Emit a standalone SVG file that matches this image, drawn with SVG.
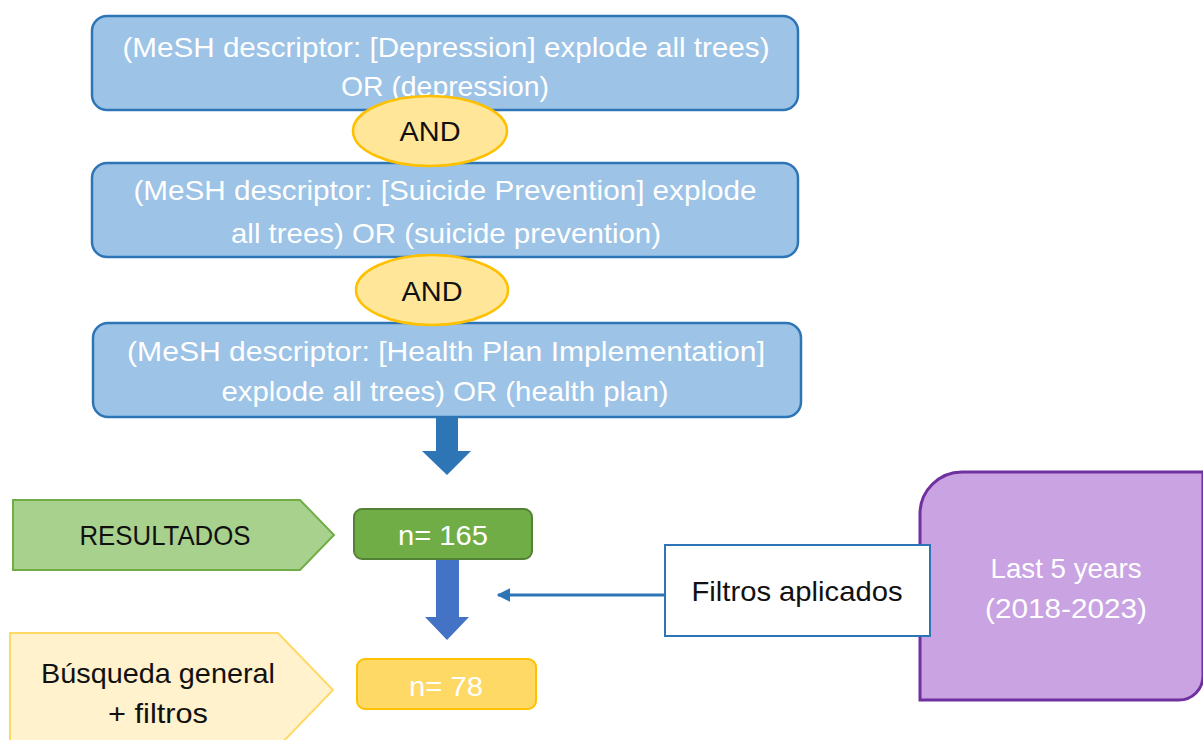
<svg xmlns="http://www.w3.org/2000/svg" width="1203" height="740" viewBox="0 0 1203 740">
<defs>
<style>
text{font-family:"Liberation Sans",Arial,sans-serif;font-size:28px;text-anchor:middle}
.w{fill:#fff}
.k{fill:#111}
.query{fill:#9DC3E6;stroke:#2E75B6;stroke-width:2.5}
.and{fill:#FFE699;stroke:#FFC000;stroke-width:2.5}
</style>
<marker id="ah" viewBox="0 0 10 10" refX="9" refY="5" markerWidth="4.5" markerHeight="4.5" orient="auto-start-reverse" markerUnits="strokeWidth">
<path d="M0,0 L10,5 L0,10 Z" fill="#2E75B6"/>
</marker>
</defs>
<rect width="1203" height="740" fill="#fff"/>

<g id="q1">
<rect class="query" x="92" y="16" width="706" height="94" rx="15"/>
<text class="w" x="446" y="57" textLength="647" lengthAdjust="spacingAndGlyphs">(MeSH descriptor: [Depression] explode all trees)</text>
<text class="w" x="445" y="96" textLength="208" lengthAdjust="spacingAndGlyphs">OR (depression)</text>
</g>
<g id="q2">
<rect class="query" x="92" y="163" width="706" height="94" rx="15"/>
<text class="w" x="445" y="200" textLength="623" lengthAdjust="spacingAndGlyphs">(MeSH descriptor: [Suicide Prevention] explode</text>
<text class="w" x="446" y="243" textLength="430" lengthAdjust="spacingAndGlyphs">all trees) OR (suicide prevention)</text>
</g>
<g id="q3">
<rect class="query" x="93" y="323" width="708" height="94" rx="15"/>
<text class="w" x="446" y="361" textLength="638" lengthAdjust="spacingAndGlyphs">(MeSH descriptor: [Health Plan Implementation]</text>
<text class="w" x="445" y="401" textLength="447" lengthAdjust="spacingAndGlyphs">explode all trees) OR (health plan)</text>
</g>
<g id="and1">
<ellipse class="and" cx="430" cy="131" rx="77" ry="35"/>
<text class="k" x="430" y="141" textLength="61" lengthAdjust="spacingAndGlyphs">AND</text>
</g>
<g id="and2">
<ellipse class="and" cx="432" cy="290" rx="76" ry="35"/>
<text class="k" x="432" y="301" textLength="61" lengthAdjust="spacingAndGlyphs">AND</text>
</g>

<g id="connectors">
<polygon points="436,417 458,417 458,451 471,451 447,475 422,451 436,451" fill="#2E75B6"/>
<polygon points="436,559 459,559 459,617 469,617 447,640 425,617 436,617" fill="#4472C4"/>
<line x1="665" y1="595" x2="498" y2="595" stroke="#2E75B6" stroke-width="3" marker-end="url(#ah)"/>
</g>

<g id="resultados">
<polygon points="13,500 300,500 334,535 300,570 13,570" fill="#A9D18E" stroke="#70AD47" stroke-width="2"/>
<text class="k" x="165" y="545" textLength="171" lengthAdjust="spacingAndGlyphs">RESULTADOS</text>
</g>
<g id="n165">
<rect x="354" y="509" width="178" height="50" rx="8" fill="#70AD47" stroke="#548235" stroke-width="2"/>
<text class="w" x="443" y="545" textLength="90" lengthAdjust="spacingAndGlyphs">n= 165</text>
</g>
<g id="busqueda">
<polygon points="10,633 278,633 333,690 278,747 10,747" fill="#FFF2CC" stroke="#FFD966" stroke-width="2"/>
<text class="k" x="158" y="683" textLength="234" lengthAdjust="spacingAndGlyphs">Búsqueda general</text>
<text class="k" x="158" y="723" textLength="100" lengthAdjust="spacingAndGlyphs">+ filtros</text>
</g>
<g id="n78">
<rect x="357" y="659" width="179" height="50" rx="8" fill="#FFD966" stroke="#FFC000" stroke-width="2"/>
<text class="w" x="446" y="696" textLength="74" lengthAdjust="spacingAndGlyphs">n= 78</text>
</g>
<g id="last5">
<path d="M920,700 V514 A42,42 0 0 1 962,472 H1203 V676 A24,24 0 0 1 1179,700 Z" fill="#C9A3E2" stroke="#7030A0" stroke-width="3"/>
<text class="w" x="1066" y="578" textLength="151" lengthAdjust="spacingAndGlyphs">Last 5 years</text>
<text class="w" x="1066" y="618" textLength="162" lengthAdjust="spacingAndGlyphs">(2018-2023)</text>
</g>
<g id="filtros">
<rect x="665" y="545" width="265" height="91" fill="#fff" stroke="#2E75B6" stroke-width="2"/>
<text class="k" x="797" y="601" textLength="211" lengthAdjust="spacingAndGlyphs">Filtros aplicados</text>
</g>
</svg>
